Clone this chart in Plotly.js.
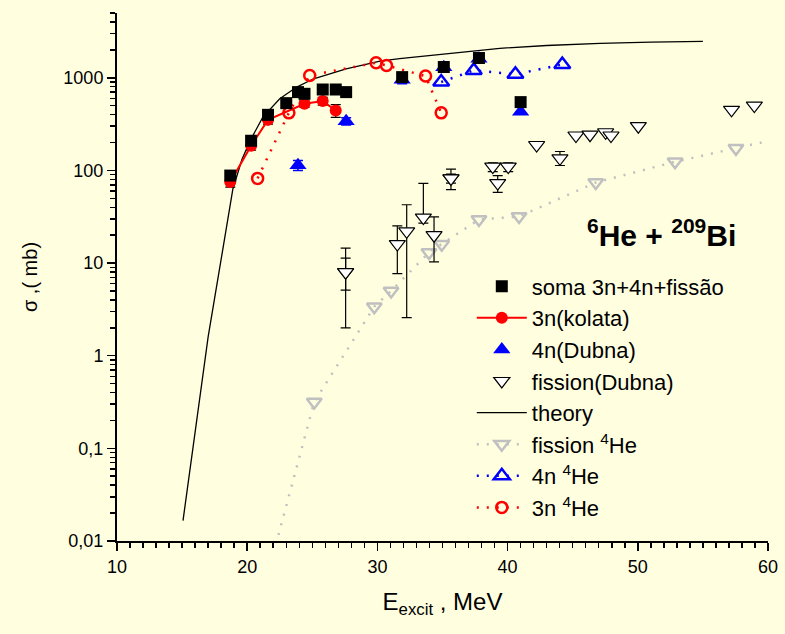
<!DOCTYPE html>
<html><head><meta charset="utf-8">
<script src="https://cdn.plot.ly/plotly-3.0.1.min.js"></script>
<style>html,body{margin:0;padding:0;background:#FFFFE0;}</style>
</head><body><div id="chart" style="width:785px;height:634px;"></div>
<script>
// ---- data ----
const somaE = [18.7, 20.3, 21.6, 23.0, 23.9, 24.4, 25.8, 26.8, 27.6, 31.9, 35.1, 37.8, 41.0];
const somaV = [88, 209, 398, 532, 700, 671, 747, 747, 700, 1016, 1306, 1633, 546];

const kolataE = [18.7, 20.3, 21.6, 24.4, 25.8, 26.8];
const kolataV = [75, 185, 351, 523, 560, 443];
const kolataErr = [9, 20, 35, 45, 55, 70];

const dubna4nE = [23.9, 27.6, 31.9, 35.1, 37.8, 41.0];
const dubna4nV = [114, 340, 950, 1300, 1600, 430];
const dubna4nErr = [14, 30, 90, 0, 0, 0];

const fisDubErrE = [27.56, 27.56, 31.53, 32.25, 33.53, 34.35, 35.65, 35.65, 38.86, 39.24, 40.05, 44.02];
const fisDubErrV = [8.0, 8.0, 16, 22, 31, 20, 82, 82, 110, 73, 110, 135];
const fisDubErrHi = [14.5, 11.3, 25.2, 42.6, 72.5, 31.5, 103, 91, 121, 88, 121, 160];
const fisDubErrLo = [2.0, 5.1, 7.7, 2.57, 27, 10.3, 62, 73, 97, 58, 97, 113];

const fisDubE = [42.23, 45.25, 46.33, 47.53, 47.94, 50.04, 57.2, 58.95];
const fisDubV = [188, 238, 243, 258, 238, 300, 451, 501];

const theoryE = [15.07, 16.0, 17.0, 18.0, 18.9, 19.6, 20.3, 21.2, 22.5, 23.8, 25.1, 27.6, 30.2, 31.7, 35.0, 37.9, 39.4, 43.0, 47.1, 51.0, 55.0];
const theoryV = [0.0166, 0.16, 1.6, 11, 63, 132, 219, 376, 593, 793, 975, 1250, 1514, 1607, 1800, 2000, 2080, 2230, 2350, 2420, 2470];

const fis4HeE = [22.0, 25.15, 29.76, 31.05, 33.96, 34.94, 37.8, 40.88, 46.77, 52.86, 57.54, 62.0];
const fis4HeV = [0.0072, 0.317, 3.38, 4.99, 13, 16.0, 29.5, 31.8, 74, 124, 173, 240];

const n4HeE = [34.9, 37.4, 40.6, 44.2];
const n4HeV = [900, 1200, 1090, 1390];

const n3HeE = [20.8, 23.2, 24.8, 29.9, 30.7, 33.7, 34.9];
const n3HeV = [82, 418, 1060, 1452, 1358, 1042, 418];

const yTickVals = [0.01, 0.1, 1, 10, 100, 1000];
const yTickText = ['0,01', '0,1', '1', '10', '100', '1000'];
const xTickVals = [10, 20, 30, 40, 50, 60];
const xTickText = ['10', '20', '30', '40', '50', '60'];

// ---- helpers ----
const yMinor = [];
for (let d = -2; d <= 3; d++) {
  for (let k = 2; k <= 9; k++) {
    const v = k * Math.pow(10, d);
    if (v <= 5000) yMinor.push(v);
  }
}
const FONT = 'Arial, "Liberation Sans", sans-serif';
const LEG = {theory:5, fis4He:6, n4He:7, n3He:8, fisDub:4, dubna4n:3, kolata:2, soma:1};
const DOTS = '2px,8px';

const traces = [
  {x: theoryE, y: theoryV, mode: 'lines', name: 'theory', legendrank: LEG.theory,
   line: {color: 'black', width: 1.3}},
  {x: fis4HeE, y: fis4HeV, mode: 'lines+markers', name: 'fission <sup>4</sup>He', legendrank: LEG.fis4He,
   line: {color: '#C0C0C0', width: 2.5, dash: DOTS},
   marker: {symbol: 'triangle-down-open', size: 13, color: '#C0C0C0', line: {width: 2.5, color: '#C0C0C0'}}},
  {x: n3HeE, y: n3HeV, mode: 'lines+markers', name: '3n <sup>4</sup>He', legendrank: LEG.n3He,
   line: {color: 'red', width: 2.5, dash: DOTS},
   marker: {symbol: 'circle-open', size: 11, color: 'red', line: {width: 2.5, color: 'red'}}},
  {x: n4HeE, y: n4HeV, mode: 'lines+markers', name: '4n <sup>4</sup>He', legendrank: LEG.n4He,
   line: {color: 'blue', width: 2.5, dash: DOTS},
   marker: {symbol: 'triangle-up-open', size: 14, color: 'blue', line: {width: 2.5, color: 'blue'}}},
  {x: fisDubErrE, y: fisDubErrV, mode: 'markers', name: 'fission(Dubna)', legendrank: LEG.fisDub,
   legendgroup: 'fd',
   error_y: {type: 'data', symmetric: false,
     array: fisDubErrHi.map((h, i) => h - fisDubErrV[i]),
     arrayminus: fisDubErrLo.map((l, i) => fisDubErrV[i] - l),
     color: 'black', thickness: 1.2, width: 5},
   marker: {symbol: 'triangle-down', size: 14, color: 'white', line: {width: 1.2, color: 'black'}}},
  {x: fisDubE, y: fisDubV, mode: 'markers', name: 'fission(Dubna)', legendgroup: 'fd', showlegend: false,
   marker: {symbol: 'triangle-down', size: 14, color: 'white', line: {width: 1.2, color: 'black'}}},
  {x: dubna4nE, y: dubna4nV, mode: 'markers', name: '4n(Dubna)', legendrank: LEG.dubna4n,
   error_y: {type: 'data', array: dubna4nErr, color: 'blue', thickness: 1.5, width: 5},
   marker: {symbol: 'triangle-up', size: 15, color: 'blue'}},
  {x: kolataE, y: kolataV, mode: 'lines+markers', name: '3n(kolata)', legendrank: LEG.kolata,
   error_y: {type: 'data', array: kolataErr, color: 'black', thickness: 1.2, width: 5},
   line: {color: 'red', width: 2},
   marker: {symbol: 'circle', size: 12, color: 'red'}},
  {x: somaE, y: somaV, mode: 'markers', name: 'soma 3n+4n+fissão', legendrank: LEG.soma,
   marker: {symbol: 'square', size: 12, color: 'black'}}
];

const axisCommon = {
  showline: true, linecolor: 'black', linewidth: 2,
  showgrid: false, zeroline: false,
  tickcolor: 'black', tickwidth: 1.5,
  tickfont: {family: FONT, size: 18, color: 'black'}
};

const layout = {
  width: 785, height: 634,
  paper_bgcolor: '#FFFFE0', plot_bgcolor: '#FFFFE0',
  margin: {l: 117, r: 17, t: 13, b: 93},
  font: {family: FONT, color: 'black'},
  showlegend: true,
  legend: {x: 0.545, y: 0.522, xanchor: 'left', yanchor: 'top', bgcolor: 'rgba(0,0,0,0)',
    font: {family: FONT, size: 22, color: 'black'}, itemwidth: 50, traceorder: 'normal'},
  xaxis: Object.assign({}, axisCommon, {
    range: [10, 60], tickmode: 'array', tickvals: xTickVals, ticktext: xTickText,
    ticks: 'outside', ticklen: 8,
    minor: {dtick: 1, tick0: 10, ticks: 'outside', ticklen: 5, tickwidth: 1.5, tickcolor: 'black'},
    title: {text: 'E<sub>excit</sub> , MeV', font: {family: FONT, size: 24, color: 'black'}, standoff: 18}
  }),
  yaxis: Object.assign({}, axisCommon, {
    type: 'log', range: [-2, Math.log10(5000)], tickmode: 'array', tickvals: yTickVals, ticktext: yTickText,
    ticks: 'outside', ticklen: 8,
    minor: {tickmode: 'array', tickvals: yMinor, ticks: 'outside', ticklen: 5, tickwidth: 1.5, tickcolor: 'black'},
    title: {text: 'σ ,( mb)', font: {family: FONT, size: 20, color: 'black'}, standoff: 20}
  }),
  xaxis2: {overlaying: 'x', side: 'top', anchor: 'y', range: [10, 60], showline: true, linecolor: 'black', linewidth: 2,
    showgrid: false, zeroline: false, showticklabels: false, tickmode: 'array', tickvals: xTickVals,
    ticks: 'inside', ticklen: 6, tickwidth: 1.5, tickcolor: 'black',
    minor: {dtick: 1, tick0: 10, ticks: 'inside', ticklen: 6, tickwidth: 1.5, tickcolor: 'black'}},
  yaxis2: {overlaying: 'y', side: 'right', anchor: 'x', type: 'log', range: [-2, Math.log10(5000)], showline: true,
    linecolor: 'black', linewidth: 2, showgrid: false, zeroline: false, showticklabels: false,
    tickmode: 'array', tickvals: yTickVals, ticks: 'inside', ticklen: 8, tickwidth: 1.5, tickcolor: 'black',
    minor: {tickmode: 'array', tickvals: yMinor, ticks: 'inside', ticklen: 5, tickwidth: 1.5, tickcolor: 'black'}},
  annotations: [
    {xref: 'paper', yref: 'paper', x: 0.837, y: 0.583, xanchor: 'center', yanchor: 'middle', showarrow: false,
     text: '<b><sup>6</sup>He + <sup>209</sup>Bi</b>', font: {family: FONT, size: 30, color: 'black'}}
  ]
};

Plotly.newPlot('chart', traces, layout, {displayModeBar: false, staticPlot: true});
</script>
</body></html>
